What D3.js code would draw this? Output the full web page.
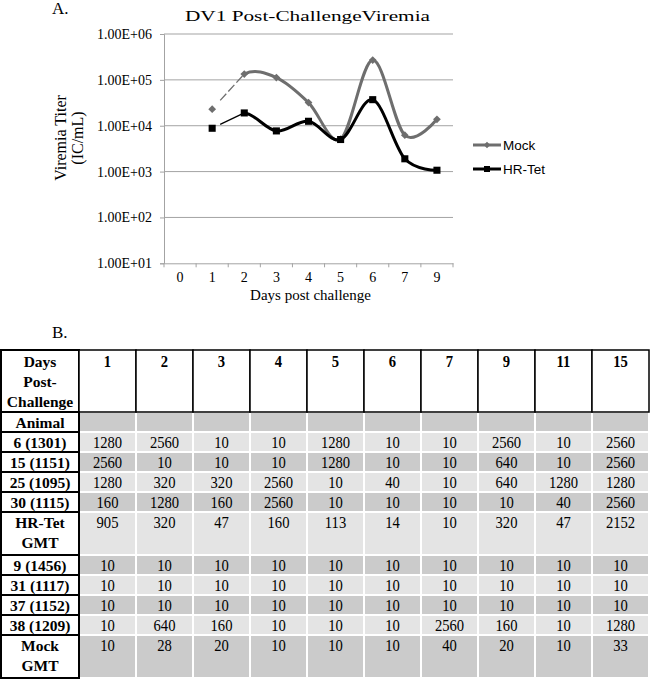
<!DOCTYPE html>
<html><head><meta charset="utf-8">
<script src="https://cdn.jsdelivr.net/npm/d3@7"></script>
<style>
body{margin:0;background:#fff;}
svg{display:block;}
</style></head>
<body>
<script>
// ---------- DATA ----------
const days = ["0","1","2","3","4","5","6","7","9"];
const mockViremia  = [null, 23000, 134000, 112000, 32000, 5100, 270000, 6200, 13800];
const hrTetViremia = [null, 8800, 19000, 7700, 12500, 5000, 37000, 1900, 1070];
const yTickValues = [10, 100, 1000, 10000, 100000, 1000000];
const seriesNames = ["Mock", "HR-Tet"];

const tableDays = ["1","2","3","4","5","6","7","9","11","15"];
const rowLabels = ["6 (1301)","15 (1151)","25 (1095)","30 (1115)","HR-Tet|GMT","9 (1456)","31 (1117)","37 (1152)","38 (1209)","Mock|GMT"];
const animal6   = [1280,2560,10,10,1280,10,10,2560,10,2560];
const animal15  = [2560,10,10,10,1280,10,10,640,10,2560];
const animal25  = [1280,320,320,2560,10,40,10,640,1280,1280];
const animal30  = [160,1280,160,2560,10,10,10,10,40,2560];
const hrTetGMT  = [905,320,47,160,113,14,10,320,47,2152];
const animal9   = [10,10,10,10,10,10,10,10,10,10];
const animal31  = [10,10,10,10,10,10,10,10,10,10];
const animal37  = [10,10,10,10,10,10,10,10,10,10];
const animal38  = [10,640,160,10,10,10,2560,160,10,1280];
const mockGMT   = [10,28,20,10,10,10,40,20,10,33];
const tableRows = [animal6, animal15, animal25, animal30, hrTetGMT, animal9, animal31, animal37, animal38, mockGMT];

// ---------- SETUP ----------
const W = 650, H = 681;
const serif = "'Liberation Serif','Times New Roman',serif";
const sans = "'Liberation Sans',Arial,sans-serif";
const svg = d3.select("body").append("svg").attr("width", W).attr("height", H);

// ---------- PANEL A ----------
svg.append("text").attr("x", 52).attr("y", 14).attr("font-family", serif).attr("font-size", 17).text("A.");
svg.append("text").attr("x", 185).attr("y", 21)
  .attr("font-family", serif).attr("font-size", 15.5)
  .attr("textLength", 245).attr("lengthAdjust", "spacingAndGlyphs")
  .text("DV1 Post-ChallengeViremia");

const x = d3.scaleBand().domain(days).range([164, 453]);
const y = d3.scaleLog().domain([10, 1e6]).range([263.3, 34]);
const gridColor = "#a3a3a3";

function fmtE(v){
  const e = Math.round(Math.log10(v));
  const m = v / Math.pow(10, e);
  return m.toFixed(2) + "E+" + String(e).padStart(2, "0");
}

// gridlines
svg.append("g").selectAll("line").data(yTickValues.slice(1)).join("line")
  .attr("x1", 164).attr("x2", 453).attr("y1", d => y(d)).attr("y2", d => y(d))
  .attr("stroke", gridColor).attr("stroke-width", 1);

// y axis
const yAxis = svg.append("g").attr("transform", "translate(164,0)")
  .call(d3.axisLeft(y).tickValues(yTickValues).tickFormat(fmtE).tickSize(4).tickPadding(8));
yAxis.select(".domain").attr("stroke", gridColor);
yAxis.selectAll(".tick line").attr("stroke", gridColor);
yAxis.selectAll("text").attr("font-family", serif).attr("font-size", 14).attr("fill", "#000");

// x axis
const xAxis = svg.append("g").attr("transform", `translate(0,${y(10)})`)
  .call(d3.axisBottom(x).tickSize(0).tickPadding(9));
xAxis.select(".domain").attr("stroke", gridColor);
xAxis.selectAll("text").attr("font-family", serif).attr("font-size", 14).attr("fill", "#000");
// boundary ticks
svg.append("g").selectAll("line").data(days.concat(["end"])).join("line")
  .attr("x1", (d,i) => i < days.length ? x(d) : x.range()[1])
  .attr("x2", (d,i) => i < days.length ? x(d) : x.range()[1])
  .attr("y1", y(10)).attr("y2", y(10) + 4).attr("stroke", gridColor);

// axis titles
svg.append("text").attr("x", (164+453)/2 + 2).attr("y", 300).attr("text-anchor", "middle")
  .attr("font-family", serif).attr("font-size", 15).text("Days post challenge");
const yt = svg.append("text").attr("transform", "translate(66,138) rotate(-90)").attr("text-anchor", "middle")
  .attr("font-family", serif).attr("font-size", 16);
yt.append("tspan").attr("x", 0).attr("dy", 0).text("Viremia Titer");
yt.append("tspan").attr("x", 0).attr("dy", 17).text("(IC/mL)");

// series
const series = [
  {name: seriesNames[0], values: mockViremia, color: "#6e6e6e", symbol: "diamond"},
  {name: seriesNames[1], values: hrTetViremia, color: "#000000", symbol: "square"}
];
svg.append("clipPath").attr("id", "afterDay2").append("rect")
  .attr("x", x("2") + x.bandwidth()/2).attr("y", 0).attr("width", 400).attr("height", 300);

const line = d3.line().defined(d => d.v != null)
  .x(d => x(d.day) + x.bandwidth()/2).y(d => y(d.v))
  .curve(d3.curveCatmullRom.alpha(0));

series.forEach(s => {
  const pts = days.map((d, i) => ({day: d, v: s.values[i]}));
  svg.append("path").datum(pts).attr("d", line).attr("fill", "none")
    .attr("stroke", s.color).attr("stroke-width", 3).attr("clip-path", "url(#afterDay2)");
  // thin first segment
  const p1 = [x("1") + x.bandwidth()/2, y(s.values[1])];
  const p2 = [x("2") + x.bandwidth()/2, y(s.values[2])];
  const a = d3.interpolate(p1, p2)(0.25);
  svg.append("line").attr("x1", a[0]).attr("y1", a[1]).attr("x2", p2[0]).attr("y2", p2[1])
    .attr("stroke", s.color).attr("stroke-width", 1.3)
    .attr("stroke-dasharray", s.symbol === "diamond" ? "9,3" : null);
  const sym = s.symbol === "diamond"
    ? d3.symbol(d3.symbolSquare).size(30)
    : d3.symbol(d3.symbolSquare).size(50);
  svg.append("g").selectAll("path").data(pts.filter(d => d.v != null)).join("path")
    .attr("d", sym)
    .attr("transform", d => `translate(${x(d.day) + x.bandwidth()/2},${y(d.v)})` + (s.symbol === "diamond" ? " rotate(45)" : ""))
    .attr("fill", s.color);
});

// legend
series.forEach((s, i) => {
  const ly = 145 + i * 24;
  svg.append("line").attr("x1", 473).attr("x2", 501).attr("y1", ly).attr("y2", ly)
    .attr("stroke", s.color).attr("stroke-width", 3);
  const sym = s.symbol === "diamond" ? d3.symbol(d3.symbolSquare).size(22) : d3.symbol(d3.symbolSquare).size(36);
  svg.append("path").attr("d", sym)
    .attr("transform", `translate(487,${ly})` + (s.symbol === "diamond" ? " rotate(45)" : ""))
    .attr("fill", s.color);
  svg.append("text").attr("x", 503).attr("y", ly + 5).attr("font-family", sans).attr("font-size", 13.5).text(s.name);
});

// ---------- PANEL B ----------
svg.append("text").attr("x", 52).attr("y", 338).attr("font-family", serif).attr("font-size", 17).text("B.");

const colX = d3.scaleBand().domain(tableDays).range([79, 649]);
const firstColX0 = 1, firstColX1 = 79;
const tableTop = 350, headerH = 62, rowH = 20, dblH = 43;
const darkGray = "#cbcbcb", lightGray = "#e4e4e4";
const numScale = 0.86;

// header row
const tb = svg.append("g");
tb.append("rect").attr("x", firstColX0).attr("y", tableTop).attr("width", firstColX1 - firstColX0).attr("height", headerH)
  .attr("fill", "#fff").attr("stroke", "#000").attr("stroke-width", 2);
tb.selectAll(".hcell").data(tableDays).join("rect").attr("class", "hcell")
  .attr("x", d => colX(d)).attr("y", tableTop).attr("width", colX.bandwidth()).attr("height", headerH)
  .attr("fill", "#fff").attr("stroke", "#000").attr("stroke-width", 1.5);
const hdr = tb.append("text").attr("text-anchor", "middle").attr("font-family", serif).attr("font-weight", "bold").attr("font-size", 15.5);
["Days","Post-","Challenge"].forEach((t, i) => hdr.append("tspan").attr("x", 40).attr("y", tableTop + 17 + i * 20).text(t));
tb.selectAll(".htext").data(tableDays).join("text").attr("class", "htext")
  .attr("transform", d => `translate(${colX(d) + colX.bandwidth()/2},${tableTop + 17}) scale(${numScale},1)`)
  .attr("text-anchor", "middle")
  .attr("font-family", serif).attr("font-weight", "bold").attr("font-size", 17).text(d => d);

// body rows: "Animal" row followed by data rows
const bodyLabels = ["Animal"].concat(rowLabels);
const bodyValues = [tableDays.map(() => "")].concat(tableRows);
let cy = tableTop + headerH;
bodyLabels.forEach((lab, r) => {
  const h = lab.includes("|") ? dblH : rowH;
  const fill = r % 2 === 0 ? darkGray : lightGray;
  tb.selectAll(null).data(tableDays).join("rect")
    .attr("x", d => colX(d) + 1).attr("y", cy + 1).attr("width", colX.bandwidth() - 2).attr("height", h - 2)
    .attr("fill", fill);
  tb.append("rect").attr("x", firstColX0).attr("y", cy).attr("width", firstColX1 - firstColX0).attr("height", h)
    .attr("fill", "#fff").attr("stroke", "#000").attr("stroke-width", 2);
  const lt = tb.append("text").attr("text-anchor", "middle").attr("font-family", serif)
    .attr("font-weight", "bold").attr("font-size", 15.5);
  lab.split("|").forEach((t, i) => lt.append("tspan").attr("x", 40).attr("y", cy + 15.5 + i * 20).text(t));
  tb.selectAll(null).data(bodyValues[r]).join("text")
    .attr("transform", (d, i) => `translate(${colX(tableDays[i]) + colX.bandwidth()/2},${cy + 15.5}) scale(${numScale},1)`)
    .attr("text-anchor", "middle").attr("font-family", serif).attr("font-size", 17).text(d => d);
  cy += h;
});
</script>
</body></html>
